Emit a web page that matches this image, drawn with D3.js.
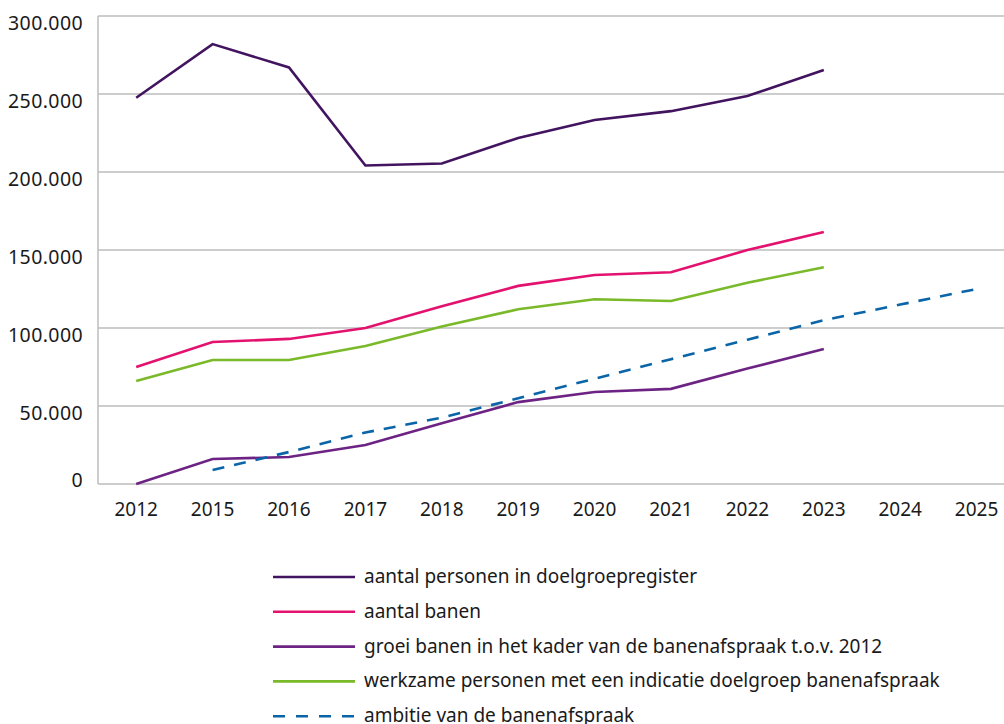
<!DOCTYPE html>
<html>
<head>
<meta charset="utf-8">
<script src="https://cdn.jsdelivr.net/npm/d3@7"></script>
<style>
  body { margin: 0; background: #fff; }
  text { font-family: "Noto Sans", sans-serif; fill: #1a1a1a; }
</style>
</head>
<body>
<div id="container"></div>
<script>
const years = ['2012', '2015', '2016', '2017', '2018', '2019', '2020', '2021', '2022', '2023', '2024', '2025'];
const yTicks = [0, 50000, 100000, 150000, 200000, 250000, 300000];

const register = [247600, 282000, 267000, 204200, 205400, 221800, 233300, 239000, 248700, 265400, null, null];
const banen = [75000, 91000, 93000, 100000, 114000, 127000, 134000, 135700, 150000, 161500, null, null];
const groei = [0, 16000, 17300, 25000, 39000, 52500, 59000, 61000, 74000, 86500, null, null];
const werkzaam = [66000, 79500, 79500, 88500, 101000, 112000, 118400, 117300, 129000, 139000, null, null];
const ambitie = [null, 9000, 20500, 33000, 42500, 55000, 67500, 80000, 92500, 105000, 115000, 125000];

const series = [
  { name: 'aantal personen in doelgroepregister', values: register, color: '#42145f', dash: null },
  { name: 'aantal banen', values: banen, color: '#e3126f', dash: null },
  { name: 'groei banen in het kader van de banenafspraak t.o.v. 2012', values: groei, color: '#6d2384', dash: null },
  { name: 'werkzame personen met een indicatie doelgroep banenafspraak', values: werkzaam, color: '#7ab929', dash: null },
  { name: 'ambitie van de banenafspraak', values: ambitie, color: '#0a65a8', dash: '12,10' }
];

const w = 1004, h = 724;
const padLeft = 98, padTop = 16, padBottom = 484;

const svg = d3.select('#container').append('svg')
  .attr('width', w).attr('height', h);

const x = d3.scaleBand().domain(years).range([padLeft, padLeft + 76.4 * 12]);
const y = d3.scaleLinear().domain([0, 300000]).range([padBottom, padTop]);
const fmt = v => v === 0 ? '0' : d3.format(',')(v).replace(/,/g, '.');

// gridlines
svg.append('g').selectAll('line').data(yTicks).enter().append('line')
  .attr('x1', padLeft).attr('x2', w)
  .attr('y1', d => y(d)).attr('y2', d => y(d))
  .attr('stroke', '#bdbdbd').attr('stroke-width', 1.5);

// left axis line
svg.append('line')
  .attr('x1', padLeft).attr('x2', padLeft).attr('y1', padTop).attr('y2', padBottom)
  .attr('stroke', '#bdbdbd').attr('stroke-width', 1.5);

// y labels (sit a bit below their gridline, except the 0)
svg.append('g').selectAll('text').data(yTicks).enter().append('text')
  .attr('x', 83).attr('y', d => d === 0 ? y(d) + 3 : y(d) + 14)
  .attr('text-anchor', 'end').attr('font-size', 19.5)
  .attr('letter-spacing', 0.4)
  .text(fmt);

// x labels
svg.append('g').selectAll('text').data(years).enter().append('text')
  .attr('x', d => x(d) + x.bandwidth() / 2).attr('y', 516)
  .attr('text-anchor', 'middle').attr('font-size', 19)
  .text(d => d);

const line = d3.line()
  .defined(d => d != null)
  .x((d, i) => x(years[i]) + x.bandwidth() / 2)
  .y(d => y(d));

svg.append('g').selectAll('path').data(series).enter().append('path')
  .attr('d', d => line(d.values))
  .attr('fill', 'none')
  .attr('stroke', d => d.color)
  .attr('stroke-width', 2.6)
  .attr('stroke-dasharray', d => d.dash);

// legend
const legend = svg.append('g');
const rows = legend.selectAll('g').data(series).enter().append('g')
  .attr('transform', (d, i) => 'translate(273,' + (577 + i * 34.8) + ')');
rows.append('line')
  .attr('x1', 0).attr('x2', 82)
  .attr('stroke', d => d.color).attr('stroke-width', 2.6)
  .attr('stroke-dasharray', d => d.dash ? '12,11' : null);
rows.append('text')
  .attr('x', 91).attr('y', 6).attr('font-size', 19)
  .text(d => d.name);
</script>
</body>
</html>
